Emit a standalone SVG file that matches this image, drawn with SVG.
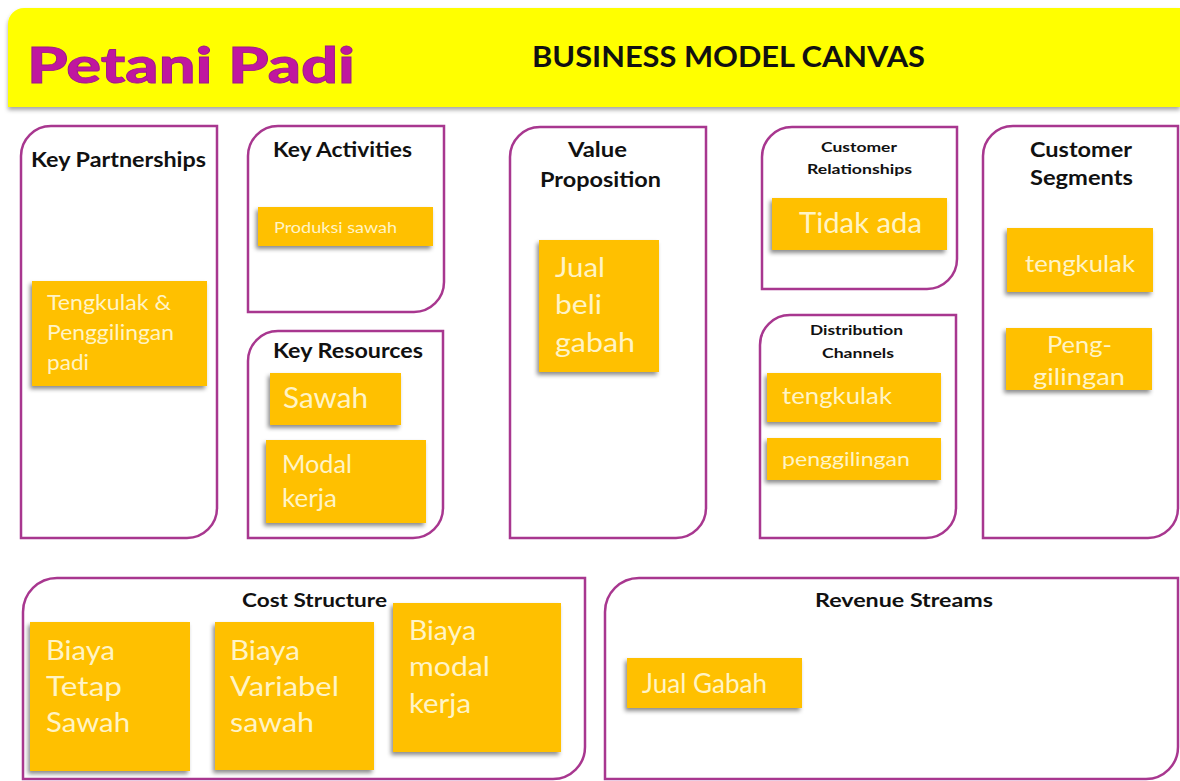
<svg xmlns="http://www.w3.org/2000/svg" width="1180" height="781" viewBox="0 0 1180 781">
<defs>
<filter id="sh" x="-20%" y="-20%" width="140%" height="150%">
<feDropShadow dx="-2" dy="3" stdDeviation="2" flood-color="#000" flood-opacity="0.45"/>
</filter>
<filter id="hsh" x="-5%" y="-20%" width="110%" height="140%">
<feDropShadow dx="0" dy="3" stdDeviation="2" flood-color="#000" flood-opacity="0.35"/>
</filter>
<style>
.box{fill:#fff;stroke:#a8378f;stroke-width:2.5}
.note{fill:#ffc000;filter:url(#sh)}
.t{font-family:Lato,"Liberation Sans",sans-serif;font-weight:700;fill:#111}
.n{font-family:Lato,"Liberation Sans",sans-serif;fill:#fff4c6}
</style>
</defs>
<rect width="1180" height="781" fill="#fff"/>
<g id="header">
<path d="M8,24 A16,16 0 0 1 24,8 H1180 V107 H8 Z" fill="#ffff00" filter="url(#hsh)"/>
<text x="27" y="83" font-family="Lato,'DejaVu Sans',sans-serif" font-weight="900" font-size="50" fill="#c0179f" stroke="#9a1a88" stroke-width="0.8" textLength="328" lengthAdjust="spacingAndGlyphs">Petani Padi</text>
<text x="532" y="67" class="t" font-size="29" textLength="393" lengthAdjust="spacingAndGlyphs">BUSINESS MODEL CANVAS</text>
</g>
<g id="key-partnerships">
<path class="box" d="M21,156 A30,30 0 0 1 51,126 H217 V508 A30,30 0 0 1 187,538 H21 Z"/>
<text x="31" y="167" class="t" font-size="20" textLength="175" lengthAdjust="spacingAndGlyphs">Key Partnerships</text>
<rect class="note" x="32" y="281" width="175" height="105"/>
<text class="n" font-size="22"><tspan x="47" y="310" textLength="124" lengthAdjust="spacingAndGlyphs">Tengkulak &amp;</tspan><tspan x="47" y="340" textLength="127" lengthAdjust="spacingAndGlyphs">Penggilingan</tspan><tspan x="47" y="370" textLength="42" lengthAdjust="spacingAndGlyphs">padi</tspan></text>
</g>
<g id="key-activities">
<path class="box" d="M248,156 A30,30 0 0 1 278,126 H444 V282 A30,30 0 0 1 414,312 H248 Z"/>
<text x="273" y="157" class="t" font-size="20" textLength="139" lengthAdjust="spacingAndGlyphs">Key Activities</text>
<rect class="note" x="258" y="207" width="175" height="39"/>
<text x="274" y="233" class="n" font-size="16" textLength="123" lengthAdjust="spacingAndGlyphs">Produksi sawah</text>
</g>
<g id="key-resources">
<path class="box" d="M248,361 A30,30 0 0 1 278,331 H443 V508 A30,30 0 0 1 413,538 H248 Z"/>
<text x="273" y="358" class="t" font-size="20" textLength="150" lengthAdjust="spacingAndGlyphs">Key Resources</text>
<rect class="note" x="270" y="373" width="131" height="52"/>
<text x="283" y="408" class="n" font-size="28" textLength="85" lengthAdjust="spacingAndGlyphs">Sawah</text>
<rect class="note" x="266" y="440" width="160" height="83"/>
<text class="n" font-size="25"><tspan x="282" y="473" textLength="70" lengthAdjust="spacingAndGlyphs">Modal</tspan><tspan x="282" y="507" textLength="55" lengthAdjust="spacingAndGlyphs">kerja</tspan></text>
</g>
<g id="value-proposition">
<path class="box" d="M510,157 A30,30 0 0 1 540,127 H706 V508 A30,30 0 0 1 676,538 H510 Z"/>
<text class="t" font-size="20"><tspan x="568" y="157" textLength="59" lengthAdjust="spacingAndGlyphs">Value</tspan><tspan x="540" y="187" textLength="121" lengthAdjust="spacingAndGlyphs">Proposition</tspan></text>
<rect class="note" x="539" y="240" width="120" height="132"/>
<text class="n" font-size="27"><tspan x="555" y="277" textLength="50" lengthAdjust="spacingAndGlyphs">Jual</tspan><tspan x="555" y="314" textLength="47" lengthAdjust="spacingAndGlyphs">beli</tspan><tspan x="555" y="352" textLength="80" lengthAdjust="spacingAndGlyphs">gabah</tspan></text>
</g>
<g id="customer-relationships">
<path class="box" d="M762,157 A30,30 0 0 1 792,127 H957 V259 A30,30 0 0 1 927,289 H762 Z"/>
<text class="t" font-size="14"><tspan x="821" y="152" textLength="76" lengthAdjust="spacingAndGlyphs">Customer</tspan><tspan x="807" y="174" textLength="105" lengthAdjust="spacingAndGlyphs">Relationships</tspan></text>
<rect class="note" x="772" y="198" width="175" height="52"/>
<text x="799" y="233" class="n" font-size="28" textLength="123" lengthAdjust="spacingAndGlyphs">Tidak ada</text>
</g>
<g id="distribution-channels">
<path class="box" d="M760,345 A30,30 0 0 1 790,315 H956 V508 A30,30 0 0 1 926,538 H760 Z"/>
<text class="t" font-size="14"><tspan x="810" y="335" textLength="93" lengthAdjust="spacingAndGlyphs">Distribution</tspan><tspan x="822" y="358" textLength="72" lengthAdjust="spacingAndGlyphs">Channels</tspan></text>
<rect class="note" x="767" y="373" width="174" height="49"/>
<text x="782" y="404" class="n" font-size="24" textLength="110" lengthAdjust="spacingAndGlyphs">tengkulak</text>
<rect class="note" x="767" y="438" width="174" height="42"/>
<text x="782" y="466" class="n" font-size="19" textLength="128" lengthAdjust="spacingAndGlyphs">penggilingan</text>
</g>
<g id="customer-segments">
<path class="box" d="M983,156 A30,30 0 0 1 1013,126 H1178 V508 A30,30 0 0 1 1148,538 H983 Z"/>
<text class="t" font-size="20"><tspan x="1030" y="157" textLength="102" lengthAdjust="spacingAndGlyphs">Customer</tspan><tspan x="1030" y="185" textLength="103" lengthAdjust="spacingAndGlyphs">Segments</tspan></text>
<rect class="note" x="1007" y="228" width="146" height="64"/>
<text x="1025" y="272" class="n" font-size="23" textLength="110" lengthAdjust="spacingAndGlyphs">tengkulak</text>
<rect class="note" x="1006" y="328" width="146" height="62"/>
<text class="n" font-size="23"><tspan x="1047" y="353" textLength="65" lengthAdjust="spacingAndGlyphs">Peng-</tspan><tspan x="1033" y="385" textLength="92" lengthAdjust="spacingAndGlyphs">gilingan</tspan></text>
</g>
<g id="cost-structure">
<path class="box" d="M23,612 A34,34 0 0 1 57,578 H585 V747 A32,32 0 0 1 553,779 H23 Z"/>
<text x="242" y="607" class="t" font-size="19" textLength="145" lengthAdjust="spacingAndGlyphs">Cost Structure</text>
<rect class="note" x="30" y="622" width="160" height="149"/>
<text class="n" font-size="27"><tspan x="46" y="660" textLength="69" lengthAdjust="spacingAndGlyphs">Biaya</tspan><tspan x="46" y="696" textLength="76" lengthAdjust="spacingAndGlyphs">Tetap</tspan><tspan x="46" y="732" textLength="84" lengthAdjust="spacingAndGlyphs">Sawah</tspan></text>
<rect class="note" x="215" y="622" width="159" height="148"/>
<text class="n" font-size="27"><tspan x="230" y="660" textLength="70" lengthAdjust="spacingAndGlyphs">Biaya</tspan><tspan x="230" y="696" textLength="109" lengthAdjust="spacingAndGlyphs">Variabel</tspan><tspan x="230" y="732" textLength="84" lengthAdjust="spacingAndGlyphs">sawah</tspan></text>
<rect class="note" x="393" y="603" width="168" height="149"/>
<text class="n" font-size="27"><tspan x="409" y="640" textLength="67" lengthAdjust="spacingAndGlyphs">Biaya</tspan><tspan x="409" y="676" textLength="81" lengthAdjust="spacingAndGlyphs">modal</tspan><tspan x="409" y="713" textLength="62" lengthAdjust="spacingAndGlyphs">kerja</tspan></text>
</g>
<g id="revenue-streams">
<path class="box" d="M605,612 A34,34 0 0 1 639,578 H1178 V747 A32,32 0 0 1 1146,779 H605 Z"/>
<text x="815" y="607" class="t" font-size="19" textLength="178" lengthAdjust="spacingAndGlyphs">Revenue Streams</text>
<rect class="note" x="627" y="658" width="175" height="50"/>
<text x="642" y="693" class="n" font-size="26" textLength="125" lengthAdjust="spacingAndGlyphs">Jual Gabah</text>
</g>
<g id="connectors"/>
</svg>
